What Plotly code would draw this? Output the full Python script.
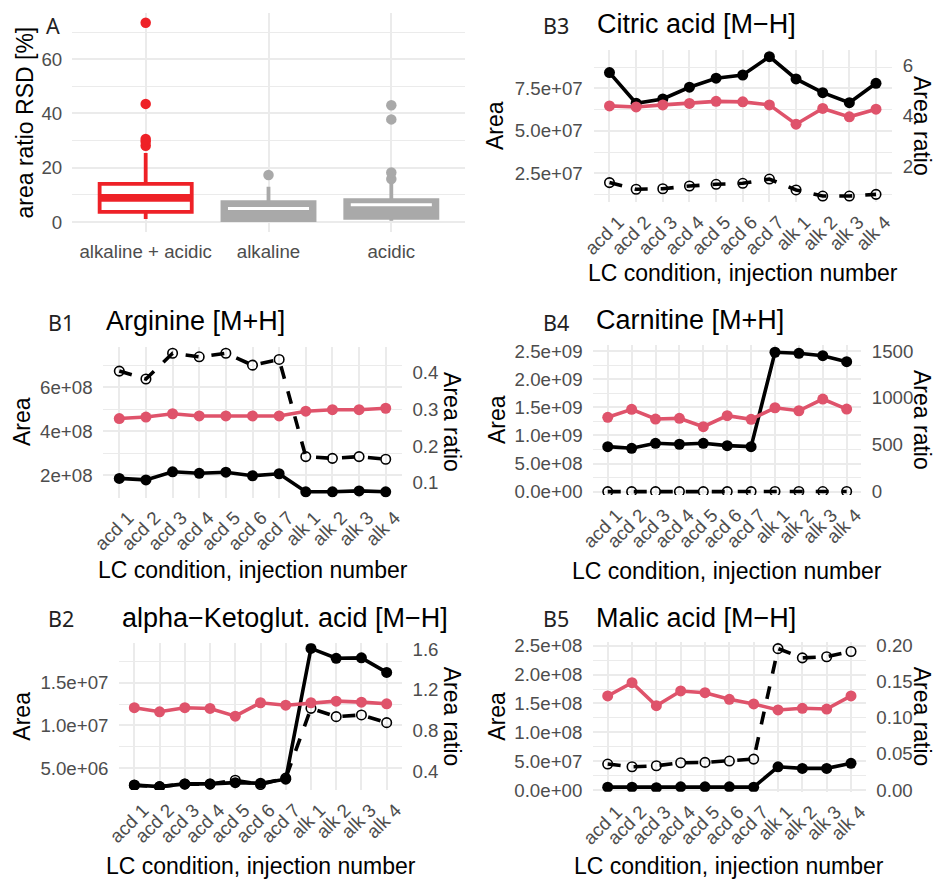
import plotly.graph_objects as go

# ---------------- data ----------------
# Panel A: area-ratio RSD per LC condition (box summary + outliers)
rsd_groups = ["alkaline + acidic", "alkaline", "acidic"]
rsd_q1 = [3.7, 0.7, 1.5]
rsd_median = [8.9, 5.0, 6.3]
rsd_q3 = [14.0, 7.3, 8.0]
rsd_lower = [1.1, 0.2, 0.4]
rsd_upper = [25.4, 13.0, 14.5]
rsd_outliers_mixed = [28.1, 29.6, 30.6, 43.5, 73.4]
rsd_outliers_alk = [17.3]
rsd_outliers_acd = [15.8, 18.2, 37.8, 43.0]
rsd_ticks = [0, 20, 40, 60]

injections = ["acd 1", "acd 2", "acd 3", "acd 4", "acd 5", "acd 6", "acd 7",
              "alk 1", "alk 2", "alk 3", "alk 4"]

# B1 Arginine [M+H]
arginine_area = [1.86e8, 1.79e8, 2.16e8, 2.09e8, 2.14e8, 1.98e8, 2.07e8, 1.25e8, 1.25e8, 1.29e8, 1.25e8]
arginine_is = [6.74e8, 6.38e8, 7.55e8, 7.39e8, 7.55e8, 7.01e8, 7.27e8, 2.85e8, 2.77e8, 2.85e8, 2.73e8]
arginine_ratio = [0.275, 0.279, 0.288, 0.282, 0.282, 0.282, 0.282, 0.295, 0.299, 0.299, 0.303]

# B2 alpha-Ketoglutaric acid [M-H]
akg_area = [3.05e6, 2.85e6, 3.17e6, 3.17e6, 3.32e6, 3.25e6, 3.72e6, 1.90e7, 1.785e7, 1.79e7, 1.62e7]
akg_is = [3.0e6, 2.85e6, 3.15e6, 3.15e6, 3.6e6, 3.1e6, 3.85e6, 1.20e7, 1.103e7, 1.123e7, 1.033e7]
akg_ratio = [1.024, 0.984, 1.024, 1.017, 0.941, 1.073, 1.049, 1.073, 1.089, 1.079, 1.063]

# B3 Citric acid [M-H]
citric_area = [8.42e7, 6.62e7, 6.87e7, 7.56e7, 8.09e7, 8.28e7, 9.36e7, 8.05e7, 7.24e7, 6.65e7, 7.79e7]
citric_is = [1.95e7, 1.56e7, 1.59e7, 1.75e7, 1.85e7, 1.91e7, 2.16e7, 1.52e7, 1.16e7, 1.16e7, 1.26e7]
citric_ratio = [4.39, 4.35, 4.43, 4.49, 4.57, 4.55, 4.43, 3.67, 4.29, 3.96, 4.26]

# B4 Carnitine [M+H]
carnitine_area = [8.0e8, 7.71e8, 8.6e8, 8.43e8, 8.6e8, 8.18e8, 8.0e8, 2.478e9, 2.46e9, 2.417e9, 2.31e9]
carnitine_is = [1.0e6, 0.9e6, 1.1e6, 1.1e6, 1.2e6, 1.0e6, 1.0e6, 2.8e6, 2.8e6, 2.4e6, 2.6e6]
carnitine_ratio = [793, 878, 775, 782, 693, 810, 772, 895, 863, 988, 881]

# B5 Malic acid [M-H]
malic_area = [5.0e6, 5.0e6, 4.0e6, 5.5e6, 5.5e6, 5.5e6, 5.0e6, 4.03e7, 3.75e7, 3.75e7, 4.62e7]
malic_is = [4.5e7, 4.03e7, 4.2e7, 4.72e7, 4.79e7, 5.02e7, 5.36e7, 2.45e8, 2.29e8, 2.31e8, 2.40e8]
malic_ratio = [0.1303, 0.1487, 0.1168, 0.1372, 0.1348, 0.1257, 0.1192, 0.1109, 0.1132, 0.1122, 0.1303]

# tick labels
arginine_left_ticks = [2e8, 4e8, 6e8]
arginine_left_text = ["2e+08", "4e+08", "6e+08"]
arginine_right_ticks = [0.1, 0.2, 0.3, 0.4]
arginine_right_text = ["0.1", "0.2", "0.3", "0.4"]

akg_left_ticks = [5e6, 1e7, 1.5e7]
akg_left_text = ["5.0e+06", "1.0e+07", "1.5e+07"]
akg_right_ticks = [0.4, 0.8, 1.2, 1.6]
akg_right_text = ["0.4", "0.8", "1.2", "1.6"]

citric_left_ticks = [2.5e7, 5e7, 7.5e7]
citric_left_text = ["2.5e+07", "5.0e+07", "7.5e+07"]
citric_right_ticks = [2, 4, 6]
citric_right_text = ["2", "4", "6"]

carnitine_left_ticks = [0, 5e8, 1e9, 1.5e9, 2e9, 2.5e9]
carnitine_left_text = ["0.0e+00", "5.0e+08", "1.0e+09", "1.5e+09", "2.0e+09", "2.5e+09"]
carnitine_right_ticks = [0, 500, 1000, 1500]
carnitine_right_text = ["0", "500", "1000", "1500"]

malic_left_ticks = [0, 5e7, 1e8, 1.5e8, 2e8, 2.5e8]
malic_left_text = ["0.0e+00", "5.0e+07", "1.0e+08", "1.5e+08", "2.0e+08", "2.5e+08"]
malic_right_ticks = [0, 0.05, 0.10, 0.15, 0.20]
malic_right_text = ["0.00", "0.05", "0.10", "0.15", "0.20"]

# ---------------- styling ----------------
W, H = 936, 879
FONT = "Liberation Sans, Arial, sans-serif"
TAG_FONT = "Noto Sans, DejaVu Sans, sans-serif"
TICK_COLOR = "#4D4D4D"
GRID = "#EBEBEB"
RED_BOX = "#EE2127"
GRAY_BOX = "#A9A9A9"
RATIO_RED = "#DF536B"
TICK_SIZE = 18.7
TITLE_SIZE = 23
MAIN_SIZE = 27
TAG_SIZE = 21.5


def fx(p):
    return p / W


def fy(p):
    return 1 - p / H


def minor_between(ticks, extra_low=True, extra_high=True):
    step = ticks[1] - ticks[0]
    vals = [t + step / 2 for t in ticks[:-1]]
    if extra_low:
        vals = [ticks[0] - step / 2] + vals
    if extra_high:
        vals = vals + [ticks[-1] + step / 2]
    return vals


fig = go.Figure()
annotations = []

# ---------------- panel A ----------------
box_fill = ["white", GRAY_BOX, GRAY_BOX]
box_line = [RED_BOX, GRAY_BOX, GRAY_BOX]
for i in range(3):
    fig.add_trace(go.Box(
        x=[i + 1], q1=[rsd_q1[i]], median=[rsd_median[i]], q3=[rsd_q3[i]],
        lowerfence=[rsd_lower[i]], upperfence=[rsd_upper[i]],
        width=0.75, whiskerwidth=0, fillcolor=box_fill[i],
        line=dict(color=box_line[i], width=3.8),
        boxpoints=False, showlegend=False, hoverinfo="skip",
        xaxis="x", yaxis="y",
    ))
# fattened median lines
fig.add_trace(go.Scatter(x=[0.625, 1.375], y=[rsd_median[0]] * 2, mode="lines",
                         line=dict(color=RED_BOX, width=7.7), showlegend=False,
                         xaxis="x", yaxis="y"))
for i in (1, 2):
    fig.add_trace(go.Scatter(x=[i + 1 - 0.33, i + 1 + 0.33], y=[rsd_median[i]] * 2,
                             mode="lines", line=dict(color="white", width=3),
                             showlegend=False, xaxis="x", yaxis="y"))
for xpos, vals, col in ((1, rsd_outliers_mixed, RED_BOX),
                        (2, rsd_outliers_alk, GRAY_BOX),
                        (3, rsd_outliers_acd, GRAY_BOX)):
    fig.add_trace(go.Scatter(x=[xpos] * len(vals), y=vals, mode="markers",
                             marker=dict(color=col, size=10.5),
                             showlegend=False, xaxis="x", yaxis="y"))

layout = dict(
    width=W, height=H, margin=dict(l=0, r=0, t=0, b=0),
    paper_bgcolor="white", plot_bgcolor="white", template="none",
    showlegend=False,
    font=dict(family=FONT, color="black"),
)

A_box = (72, 465, 13, 232)
layout["xaxis"] = dict(
    domain=[fx(A_box[0]), fx(A_box[1])], range=[0.4, 3.6], anchor="y",
    tickvals=[1, 2, 3], ticktext=rsd_groups, showgrid=True, gridcolor=GRID,
    gridwidth=1.6, zeroline=False, showline=False, ticks="outside", ticklen=3,
    tickcolor="rgba(0,0,0,0)", tickfont=dict(size=TICK_SIZE, color=TICK_COLOR,
                                             family=FONT),
    automargin=False, fixedrange=True,
)
layout["yaxis"] = dict(
    domain=[fy(A_box[3]), fy(A_box[2])], range=[-3.7, 77], anchor="x",
    tickvals=rsd_ticks, ticktext=[str(t) for t in rsd_ticks],
    showgrid=True, gridcolor=GRID, gridwidth=1.6, zeroline=False,
    showline=False, ticks="outside", ticklen=5, tickcolor="rgba(0,0,0,0)",
    tickfont=dict(size=TICK_SIZE, color=TICK_COLOR, family=FONT),
    minor=dict(tickvals=[10, 30, 50, 70], showgrid=True, gridcolor=GRID,
               gridwidth=0.8, ticks=""),
    automargin=False, fixedrange=True,
)
annotations.append(dict(text="area ratio RSD [%]", x=fx(24), y=fy(122.5),
                        textangle=-90, xanchor="center", yanchor="middle",
                        font=dict(size=TITLE_SIZE, family=FONT, color="black")))
annotations.append(dict(text="A", x=fx(44), y=fy(25), xanchor="left",
                        yanchor="middle",
                        font=dict(size=TAG_SIZE, family=TAG_FONT, color="#222222")))

# ---------------- panels B ----------------
LEFT_TAG_X, RIGHT_TAG_X = 46, 541
panels = [
    dict(tag="B3", title="Citric acid [M\u2212H]", box=(593.5, 892, 50, 202),
         area=citric_area, istd=citric_is, ratio=citric_ratio,
         lrange=[0.81e7, 9.75e7], rrange=[0.61, 6.59],
         lt=citric_left_ticks, ltt=citric_left_text,
         rt=citric_right_ticks, rtt=citric_right_text,
         tag_x=RIGHT_TAG_X, tag_y=26, title_y=24, xt_y=273, ytitle_x=495, rtitle_x=922),
    dict(tag="B1", title="Arginine [M+H]", box=(103.3, 401.7, 346.7, 497.5),
         area=arginine_area, istd=arginine_is, ratio=arginine_ratio,
         lrange=[0.99e8, 7.85e8], rrange=[0.0596, 0.4709],
         lt=arginine_left_ticks, ltt=arginine_left_text,
         rt=arginine_right_ticks, rtt=arginine_right_text,
         tag_x=LEFT_TAG_X, tag_y=322, title_y=321, xt_y=570, ytitle_x=22, rtitle_x=452),
    dict(tag="B4", title="Carnitine [M+H]", box=(593.4, 861, 345, 495),
         area=carnitine_area, istd=carnitine_is, ratio=carnitine_ratio,
         lrange=[-5.9e7, 2.607e9], rrange=[-35, 1564],
         lt=carnitine_left_ticks, ltt=carnitine_left_text,
         rt=carnitine_right_ticks, rtt=carnitine_right_text,
         tag_x=RIGHT_TAG_X, tag_y=322, title_y=320, xt_y=571, ytitle_x=497, rtitle_x=922),
    dict(tag="B2", title="alpha\u2212Ketoglut. acid [M\u2212H]", box=(119.2, 401.8, 643.3, 790),
         area=akg_area, istd=akg_is, ratio=akg_ratio,
         lrange=[2.46e6, 1.96e7], rrange=[0.213, 1.659],
         lt=akg_left_ticks, ltt=akg_left_text,
         rt=akg_right_ticks, rtt=akg_right_text,
         tag_x=LEFT_TAG_X, tag_y=618, title_y=618, xt_y=866, ytitle_x=22, rtitle_x=452),
    dict(tag="B5", title="Malic acid [M\u2212H]", box=(593.1, 865.6, 641.7, 791.7),
         area=malic_area, istd=malic_is, ratio=malic_ratio,
         lrange=[-2.9e6, 2.57e8], rrange=[-0.0024, 0.2055],
         lt=malic_left_ticks, ltt=malic_left_text,
         rt=malic_right_ticks, rtt=malic_right_text,
         tag_x=RIGHT_TAG_X, tag_y=618, title_y=618, xt_y=866, ytitle_x=497, rtitle_x=922),
]

for k, p in enumerate(panels):
    xi = k + 2
    yl = 2 * k + 2
    yr = 2 * k + 3
    xname, ylname, yrname = f"x{xi}", f"y{yl}", f"y{yr}"
    x0, x1, y0, y1 = p["box"]

    # ratio (right axis)
    fig.add_trace(go.Scatter(
        x=injections, y=p["ratio"], mode="lines+markers",
        line=dict(color=RATIO_RED, width=3.6),
        marker=dict(color=RATIO_RED, size=11),
        xaxis=xname, yaxis=yrname, showlegend=False))
    # internal standard area (open circles, dashed)
    fig.add_trace(go.Scatter(
        x=injections, y=p["istd"], mode="lines+markers",
        line=dict(color="black", width=3.6, dash="13px,13px"),
        marker=dict(symbol="circle-open", color="black", size=9.5,
                    line=dict(width=1.6, color="black")),
        xaxis=xname, yaxis=ylname, showlegend=False))
    # analyte area (filled)
    fig.add_trace(go.Scatter(
        x=injections, y=p["area"], mode="lines+markers",
        line=dict(color="black", width=3.6),
        marker=dict(color="black", size=11),
        xaxis=xname, yaxis=ylname, showlegend=False))

    layout[f"xaxis{xi}"] = dict(
        domain=[fx(x0), fx(x1)], anchor=ylname, type="category",
        categoryorder="array", categoryarray=injections,
        range=[-0.6, 10.6], showgrid=True, gridcolor=GRID, gridwidth=1.6,
        zeroline=False, showline=False, tickangle=-45,
        ticks="outside", ticklen=1, tickcolor="rgba(0,0,0,0)",
        ticklabelshift=9,
        tickfont=dict(size=TICK_SIZE, color=TICK_COLOR, family=FONT),
        automargin=False, fixedrange=True)
    layout[f"yaxis{yl}"] = dict(
        domain=[fy(y1), fy(y0)], anchor=xname, range=p["lrange"],
        tickvals=p["lt"], ticktext=p["ltt"], showgrid=True, gridcolor=GRID,
        gridwidth=1.6, zeroline=False, showline=False,
        ticks="outside", ticklen=6, tickcolor="rgba(0,0,0,0)",
        tickfont=dict(size=TICK_SIZE, color=TICK_COLOR, family=FONT),
        minor=dict(tickvals=minor_between(p["lt"]), showgrid=True,
                   gridcolor=GRID, gridwidth=0.8, ticks=""),
        automargin=False, fixedrange=True)
    layout[f"yaxis{yr}"] = dict(
        overlaying=ylname, anchor=xname, side="right", range=p["rrange"],
        tickvals=p["rt"], ticktext=p["rtt"], showgrid=False, zeroline=False,
        showline=False, ticks="outside", ticklen=6, tickcolor="rgba(0,0,0,0)",
        tickfont=dict(size=TICK_SIZE, color=TICK_COLOR, family=FONT),
        automargin=False, fixedrange=True)

    cx = (x0 + x1) / 2
    cy = (y0 + y1) / 2
    annotations += [
        dict(text=p["title"], x=fx(x0 + 1), y=fy(p["title_y"]), xanchor="left",
             yanchor="middle", font=dict(size=MAIN_SIZE, family=FONT, color="black")),
        dict(text=p["tag"], x=fx(p["tag_x"]), y=fy(p["tag_y"]), xanchor="left",
             yanchor="middle", font=dict(size=TAG_SIZE, family=TAG_FONT, color="#222222")),
        dict(text="Area", x=fx(p["ytitle_x"]), y=fy(cy), textangle=-90,
             xanchor="center", yanchor="middle",
             font=dict(size=TITLE_SIZE, family=FONT, color="black")),
        dict(text="Area ratio", x=fx(p["rtitle_x"]), y=fy(cy), textangle=90,
             xanchor="center", yanchor="middle",
             font=dict(size=TITLE_SIZE, family=FONT, color="black")),
        dict(text="LC condition, injection number", x=fx(cx), y=fy(p["xt_y"]),
             xanchor="center", yanchor="middle",
             font=dict(size=TITLE_SIZE, family=FONT, color="black")),
    ]

for a in annotations:
    a.setdefault("xref", "paper")
    a.setdefault("yref", "paper")
    a.setdefault("showarrow", False)
layout["annotations"] = annotations

fig.update_layout(**layout)
fig.write_html("out.html")
